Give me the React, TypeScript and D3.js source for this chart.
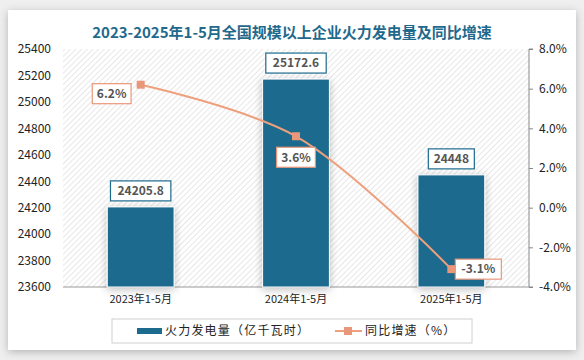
import React, { useEffect, useRef } from "react";
import * as d3 from "d3";

const categories = ["2023年1-5月", "2024年1-5月", "2025年1-5月"];
const output = [24205.8, 25172.6, 24448];
const outputLabels = ["24205.8", "25172.6", "24448"];
const growth = [6.2, 3.6, -3.1];
const leftTicks = [23600, 23800, 24000, 24200, 24400, 24600, 24800, 25000, 25200, 25400];
const rightTicks = [-4, -2, 0, 2, 4, 6, 8];

const W = 584;
const H = 360;
const FONT = "'Noto Sans CJK SC', 'Noto Sans', sans-serif";
const BAR = "#1c6a8d";
const LINE = "#eea07c";
const MARK = "#e9977a";

const pct = (d: number) => d.toFixed(1) + "%";

const App = () => {
  const ref = useRef<SVGSVGElement>(null);

  useEffect(() => {
    const svg = d3.select(ref.current);
    svg.selectAll("*").remove();

    const m = { left: 63, right: 529, top: 49, bottom: 287 };

    const defs = svg.append("defs");
    const pat = defs
      .append("pattern")
      .attr("id", "hatch")
      .attr("width", 4)
      .attr("height", 4)
      .attr("patternUnits", "userSpaceOnUse")
      .attr("patternTransform", "rotate(45)");
    pat.append("line").attr("x1", 0).attr("y1", 0).attr("x2", 0).attr("y2", 4)
      .attr("stroke", "#d6d6d6").attr("stroke-width", 1.2);
    const f = defs.append("filter").attr("id", "shadow").attr("x", "-10%").attr("y", "-10%")
      .attr("width", "120%").attr("height", "120%");
    f.append("feDropShadow").attr("dx", 0).attr("dy", 2).attr("stdDeviation", 4)
      .attr("flood-color", "#000").attr("flood-opacity", 0.25);

    // page + card
    svg.append("rect").attr("width", W).attr("height", H).attr("fill", "#efefef");
    svg.append("rect").attr("x", 8).attr("y", 10).attr("width", 568).attr("height", 340)
      .attr("fill", "#fff").attr("filter", "url(#shadow)");

    svg.append("text")
      .attr("x", 292).attr("y", 38)
      .attr("text-anchor", "middle")
      .attr("font-family", FONT).attr("font-size", 15).attr("font-weight", "bold")
      .attr("fill", "#1f6a8c")
      .text("2023-2025年1-5月全国规模以上企业火力发电量及同比增速");

    svg.append("rect").attr("x", m.left).attr("y", m.top)
      .attr("width", m.right - m.left).attr("height", m.bottom - m.top)
      .attr("fill", "url(#hatch)");

    const x = d3.scaleBand().domain(categories).range([m.left, m.right])
      .paddingInner(0.57).paddingOuter(0.285);
    const y = d3.scaleLinear().domain([23600, 25400]).range([m.bottom, m.top]);
    const y2 = d3.scaleLinear().domain([-4, 8]).range([m.bottom, m.top]);
    const cx = (i: number) => (x(categories[i]) as number) + x.bandwidth() / 2;

    // left axis
    const gl = svg.append("g").attr("transform", `translate(${m.left},0)`)
      .call(d3.axisLeft(y).tickValues(leftTicks).tickSize(0).tickPadding(12).tickFormat(d3.format("d")));
    gl.select(".domain").remove();
    gl.selectAll("text").attr("font-family", FONT).attr("font-size", 12).attr("fill", "#222");

    // right axis
    const gr = svg.append("g").attr("transform", `translate(${m.right},0)`)
      .call(d3.axisRight(y2).tickValues(rightTicks).tickSize(4).tickPadding(6)
        .tickFormat((d) => pct(d as number)));
    gr.select(".domain").attr("stroke", "#888").attr("d", `M4,${m.top}H0V${m.bottom}H4`);
    gr.selectAll("line").attr("stroke", "#888");
    gr.selectAll("text").attr("font-family", FONT).attr("font-size", 12).attr("fill", "#222");

    // bottom axis
    const gb = svg.append("g").attr("transform", `translate(0,${m.bottom})`)
      .call(d3.axisBottom(x).tickSize(0).tickPadding(8));
    gb.select(".domain").attr("stroke", "#999").attr("d", `M${m.left},0H${m.right}`);
    gb.selectAll("text").attr("font-family", FONT).attr("font-size", 11).attr("fill", "#222");

    // bars
    svg.append("g").selectAll("rect").data(output).join("rect")
      .attr("x", (_, i) => x(categories[i]) as number)
      .attr("y", (d) => y(d))
      .attr("width", x.bandwidth())
      .attr("height", (d) => m.bottom - y(d))
      .attr("fill", BAR).attr("stroke", "#fff").attr("stroke-width", 1)
      .attr("filter", "url(#shadow)");

    // bar labels
    const bl = svg.append("g").selectAll("g").data(output).join("g")
      .attr("transform", (d, i) => `translate(${cx(i)},${y(d) - 16})`);
    bl.append("rect")
      .attr("x", (_, i) => -(outputLabels[i].length * 7.2 + 10) / 2)
      .attr("y", -10).attr("height", 20)
      .attr("width", (_, i) => outputLabels[i].length * 7.2 + 10)
      .attr("fill", "#fff").attr("stroke", BAR).attr("stroke-width", 1.2);
    bl.append("text").attr("text-anchor", "middle").attr("dy", "0.36em")
      .attr("font-family", FONT).attr("font-size", 12).attr("font-weight", "bold")
      .attr("fill", "#555").text((_, i) => outputLabels[i]);

    // line
    const line = d3.line<number>().x((_, i) => cx(i)).y((d) => y2(d)).curve(d3.curveCatmullRom);
    svg.append("path").datum(growth).attr("d", line).attr("fill", "none")
      .attr("stroke", LINE).attr("stroke-width", 2);
    svg.append("g").selectAll("rect").data(growth).join("rect")
      .attr("x", (_, i) => cx(i) - 4).attr("y", (d) => y2(d) - 4)
      .attr("width", 8).attr("height", 8).attr("fill", MARK);

    // line labels
    const offs = [[-29, 9], [0, 21], [27, 0]];
    const ll = svg.append("g").selectAll("g").data(growth).join("g")
      .attr("transform", (d, i) => `translate(${cx(i) + offs[i][0]},${y2(d) + offs[i][1]})`);
    ll.append("rect")
      .attr("x", (d) => -(pct(d).length * 7.2 + 10) / 2).attr("y", -10).attr("height", 20)
      .attr("width", (d) => pct(d).length * 7.2 + 10)
      .attr("fill", "#fff").attr("stroke", MARK).attr("stroke-width", 1.2);
    ll.append("text").attr("text-anchor", "middle").attr("dy", "0.36em")
      .attr("font-family", FONT).attr("font-size", 12).attr("font-weight", "bold")
      .attr("fill", "#555").text((d) => pct(d));

    // legend
    const lg = svg.append("g");
    lg.append("rect").attr("x", 112).attr("y", 319).attr("width", 360).attr("height", 24)
      .attr("fill", "#fff").attr("stroke", "#d0d0d0");
    lg.append("rect").attr("x", 137).attr("y", 328).attr("width", 25).attr("height", 6).attr("fill", BAR);
    lg.append("text").attr("x", 165).attr("y", 331).attr("dy", "0.35em")
      .attr("font-family", FONT).attr("font-size", 12).attr("fill", "#222")
      .attr("letter-spacing", 1.2)
      .text("火力发电量（亿千瓦时）");
    lg.append("line").attr("x1", 335).attr("x2", 362).attr("y1", 331).attr("y2", 331)
      .attr("stroke", LINE).attr("stroke-width", 2);
    lg.append("rect").attr("x", 344).attr("y", 327).attr("width", 8).attr("height", 8).attr("fill", MARK);
    lg.append("text").attr("x", 365).attr("y", 331).attr("dy", "0.35em")
      .attr("font-family", FONT).attr("font-size", 12).attr("fill", "#222")
      .attr("letter-spacing", 1.2)
      .text("同比增速（%）");
  }, []);

  return (
    <svg ref={ref} width={W} height={H} style={{ position: "absolute", left: 0, top: 0 }} />
  );
};

export default App;
